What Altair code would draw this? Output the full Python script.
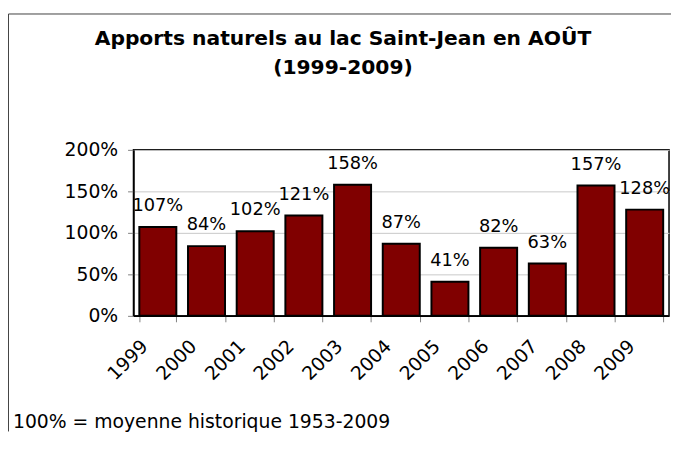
import altair as alt
import pandas as pd

years = ["1999", "2000", "2001", "2002", "2003", "2004", "2005", "2006", "2007", "2008", "2009"]
values = [107, 84, 102, 121, 158, 87, 41, 82, 63, 157, 128]
y_ticks = [0, 50, 100, 150, 200]
title_lines = ["Apports naturels au lac Saint-Jean en AOÛT", "(1999-2009)"]
footnote = "100% = moyenne historique 1953-2009"

df = pd.DataFrame({"year": years, "value": values, "label": [f"{v}%" for v in values]})

FONT = "DejaVu Sans"
PAD_L, PAD_T, PAD_R, PAD_B = 127, 141, 2, 117
W, H = 542, 168

x_enc = alt.X(
    "year:N",
    sort=years,
    scale=alt.Scale(paddingInner=0.24, paddingOuter=0.12),
    axis=alt.Axis(
        title=None, labelAngle=-45, tickBand="extent", labelOffset=-20, labelPadding=15,
        tickSize=6, tickColor="#808080", domainColor="black", domainWidth=1.5,
        labelFont=FONT, labelFontSize=19, labelColor="black",
    ),
)
y_enc = alt.Y(
    "value:Q",
    scale=alt.Scale(domain=[0, 200]),
    axis=alt.Axis(
        title=None, values=y_ticks, labelExpr="datum.value + '%'", grid=True,
        gridColor="#c8c8c8", tickSize=6, tickColor="#808080", domainColor="black",
        domainWidth=1.5, labelPadding=10, labelFont=FONT, labelFontSize=19, labelColor="black",
    ),
)

base = alt.Chart(df)
bars = base.mark_bar(color="#800000", stroke="black", strokeWidth=2).encode(x=x_enc, y=y_enc)
labels = base.mark_text(dy=-16, baseline="alphabetic", font=FONT, fontSize=18, color="black").encode(
    x=alt.X("year:N", sort=years), y="value:Q", text="label:N"
)

one = alt.Data(values=[{}])
left_edge = alt.Chart(one).mark_rule(stroke="#404040", strokeWidth=1).encode(
    x=alt.value(-PAD_L + 0.5), y=alt.value(-PAD_T + 3.5), y2=alt.value(H + PAD_B)
)
top_edge = alt.Chart(one).mark_rule(stroke="#404040", strokeWidth=1).encode(
    x=alt.value(-PAD_L + 0.5), x2=alt.value(W + PAD_R), y=alt.value(-PAD_T + 3.5)
)
title = alt.Chart(one).mark_text(
    text=title_lines, font=FONT, fontWeight="bold", fontSize=20.5, lineHeight=29,
    align="center", baseline="alphabetic", color="black",
).encode(x=alt.value(347 - 8 - PAD_L), y=alt.value(-106))
foot = alt.Chart(one).mark_text(
    text=footnote, font=FONT, fontSize=19, align="left", baseline="alphabetic", color="black",
).encode(x=alt.value(5 - PAD_L), y=alt.value(281))

chart = alt.layer(left_edge, top_edge, bars, labels, title, foot).properties(
    width=W, height=H,
    padding={"left": PAD_L, "top": PAD_T, "right": PAD_R, "bottom": PAD_B},
    autosize=alt.AutoSizeParams(type="none"),
    background="white",
).configure_view(stroke="black", strokeWidth=1.5)

chart.save("out.html", embed_options={"renderer": "svg", "actions": False})
